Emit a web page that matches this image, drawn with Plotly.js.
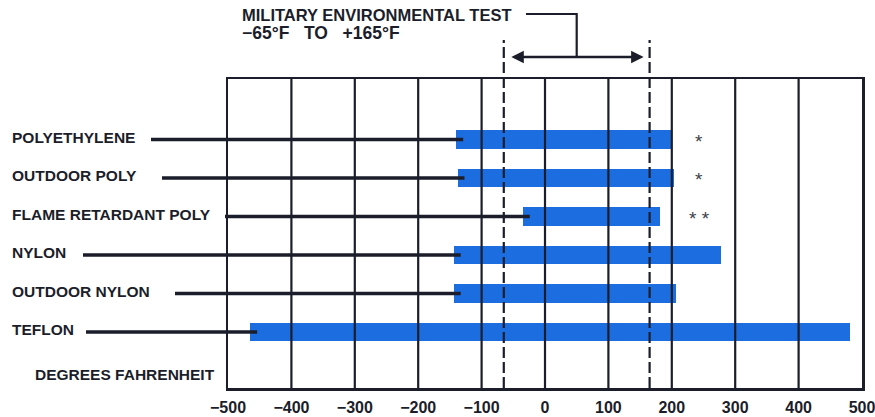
<!DOCTYPE html>
<html><head><meta charset="utf-8">
<script src="https://cdn.plot.ly/plotly-3.0.1.min.js"></script>
<style>html,body{margin:0;padding:0;background:#fff;} #chart{width:875px;height:417px;}</style>
</head><body><div id="chart"></div>
<script>
// ---------- data ----------
const materials = ['POLYETHYLENE', 'OUTDOOR POLY', 'FLAME RETARDANT POLY', 'NYLON', 'OUTDOOR NYLON', 'TEFLON'];
const tempLow  = [-140, -138, -35, -144, -144, -465];
const tempHigh = [200, 204, 182, 278, 206, 481];
const notes    = ['*', '*', '* *', '', '', ''];
const milTest  = [-65, 165];
const tickVals   = [-500, -400, -300, -200, -100, 0, 100, 200, 300, 400, 500];
const tickLabels = ['\u2212500', '\u2212400', '\u2212300', '\u2212200', '\u2212100', '0', '100', '200', '300', '400', '500'];
const axisTitle = 'DEGREES FAHRENHEIT';
const testTitle = ['MILITARY ENVIRONMENTAL TEST', '\u221265\u00B0F   TO   +165\u00B0F'];

// ---------- styles / layout ----------
const INK = '#1b1e2a', BLUE = '#1c6ee0', NOTE = '#3c3f4a';
const FONT = '"Liberation Sans", Arial, sans-serif';
const W = 875, H = 417;
const M = {l: 228, r: 13, t: 79, b: 29};
const plotW = W - M.l - M.r, plotH = H - M.t - M.b;
const pxX = px => (px - M.l) / plotW;
const pxY = py => (H - M.b - py) / plotH;
const leaderStartPx = [151, 162, 225, 83, 175, 86];
const leaderOverlap = 11;     // leader runs a little into the bar
const noteX = 243;
const yArrow = pxY(57), yBracket = pxY(14), yDashTop = pxY(40);
const titleSizes = [16.5, 17.5];
const titleY = [15, 33];

const bars = {
  type: 'bar', orientation: 'h',
  y: materials, base: tempLow,
  x: tempHigh.map((h, i) => h - tempLow[i]),
  width: 0.47,
  marker: {color: BLUE, line: {width: 0}},
  hoverinfo: 'skip'
};

const shapes = [];
tickVals.slice(1, -1).forEach(v => shapes.push({
  type: 'line', xref: 'x', yref: 'paper', x0: v, x1: v, y0: 0, y1: 1,
  line: {color: INK, width: 2.2}
}));
milTest.forEach(v => shapes.push({
  type: 'line', xref: 'x', yref: 'paper', x0: v, x1: v, y0: 0, y1: yDashTop,
  line: {color: INK, width: 2.2, dash: '11px,4px'}
}));
materials.forEach((m, i) => {
  shapes.push({type: 'line', xref: 'paper', yref: 'y', x0: pxX(leaderStartPx[i]), x1: 0, y0: i, y1: i,
    line: {color: INK, width: 3.5}});
  shapes.push({type: 'line', xref: 'x', yref: 'y', x0: tickVals[0], x1: tempLow[i] + leaderOverlap, y0: i, y1: i,
    line: {color: INK, width: 3.5}});
});
const mid = (milTest[0] + milTest[1]) / 2;
shapes.push({type: 'path', xref: 'x', yref: 'paper',
  path: `M${mid},${yArrow} L${mid},${yBracket} L-30,${yBracket}`,
  line: {color: INK, width: 2.2}});

const annotations = [];
materials.forEach((m, i) => annotations.push({
  xref: 'paper', yref: 'y', x: pxX(10), y: i, xanchor: 'left', yanchor: 'middle',
  text: m, showarrow: false, yshift: 2,
  font: {family: FONT, size: 15.5, color: INK, weight: 'bold'}
}));
notes.forEach((n, i) => { if (n) annotations.push({
  xref: 'x', yref: 'y', x: noteX, y: i, text: n, showarrow: false, yshift: -2,
  font: {family: FONT, size: 19, color: NOTE, weight: 'normal'}
}); });
annotations.push({
  xref: 'paper', yref: 'paper', x: pxX(33), y: pxY(374), xanchor: 'left', yanchor: 'middle',
  text: axisTitle, showarrow: false,
  font: {family: FONT, size: 15.5, color: INK, weight: 'bold'}
});
testTitle.forEach((t, k) => annotations.push({
  xref: 'paper', yref: 'paper', x: pxX(240), y: pxY(titleY[k]), xanchor: 'left', yanchor: 'middle',
  text: t, showarrow: false,
  font: {family: FONT, size: titleSizes[k], color: INK, weight: 'bold'}
}));
annotations.push({
  xref: 'x', yref: 'paper', x: milTest[1], y: yArrow,
  axref: 'x', ayref: 'pixel', ax: milTest[0], ay: 0,
  text: '', showarrow: true, arrowside: 'end+start', arrowhead: 2, arrowsize: 1,
  arrowwidth: 2.5, arrowcolor: INK, standoff: 6, startstandoff: 6
});

const layout = {
  width: W, height: H, margin: M,
  paper_bgcolor: '#fff', plot_bgcolor: '#fff',
  showlegend: false, bargap: 0,
  xaxis: {
    range: [tickVals[0], tickVals[tickVals.length - 1]],
    tickmode: 'array', tickvals: tickVals, ticktext: tickLabels,
    showgrid: false, zeroline: false, ticks: '', ticklabelstandoff: 3,
    ticklabeloverflow: 'allow',
    showline: true, mirror: true, linecolor: INK, linewidth: 2.5, layer: 'above traces',
    tickfont: {family: FONT, size: 16, color: INK, weight: 'bold'}
  },
  yaxis: {
    type: 'category', categoryorder: 'array', categoryarray: materials,
    range: [6.455, -1.571],
    showticklabels: false, showgrid: false, zeroline: false, ticks: '',
    showline: true, mirror: true, linecolor: INK, linewidth: 2.5, layer: 'above traces'
  },
  shapes: shapes, annotations: annotations
};

Plotly.newPlot('chart', [bars], layout, {staticPlot: true, displayModeBar: false});
</script>
</body></html>
